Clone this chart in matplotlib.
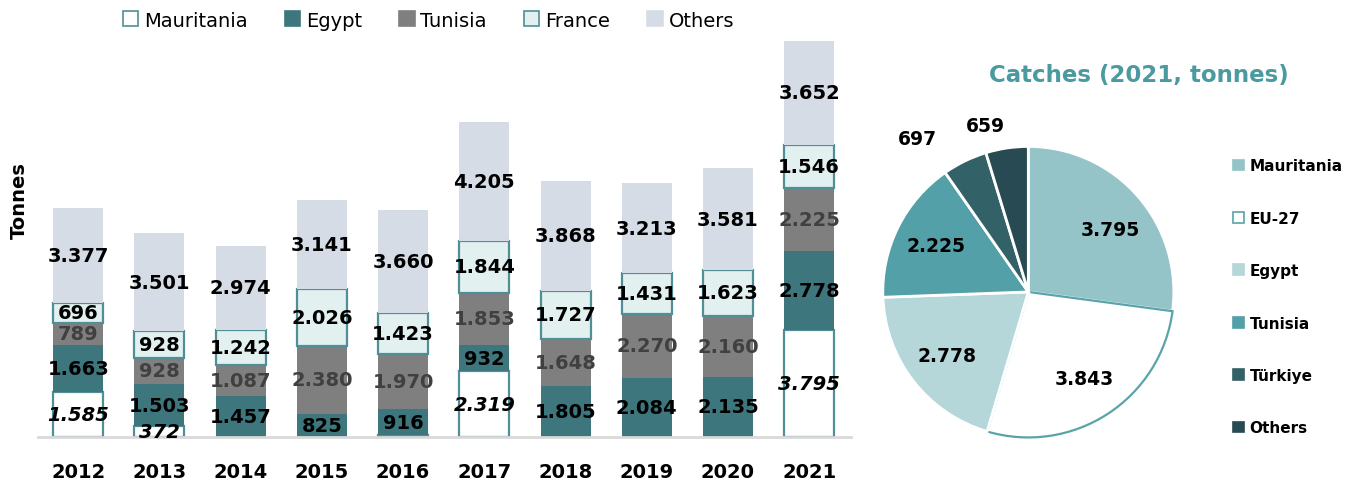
import matplotlib.pyplot as plt
from matplotlib.patches import Patch
import numpy as np

years = ['2012', '2013', '2014', '2015', '2016', '2017', '2018', '2019', '2020', '2021']
mauritania = [1585, 372, 0, 0, 60, 2319, 0, 0, 0, 3795]
egypt = [1663, 1503, 1457, 825, 916, 932, 1805, 2084, 2135, 2778]
tunisia = [789, 928, 1087, 2380, 1970, 1853, 1648, 2270, 2160, 2225]
france = [696, 928, 1242, 2026, 1423, 1844, 1727, 1431, 1623, 1546]
others = [3377, 3501, 2974, 3141, 3660, 4205, 3868, 3213, 3581, 3652]

pie_labels = ['Mauritania', 'EU-27', 'Egypt', 'Tunisia', 'Türkiye', 'Others']
pie_values = [3795, 3843, 2778, 2225, 697, 659]

def fmt(v):
    return f"{v:,}".replace(',', '.')

plt.rcParams['font.family'] = ['DejaVu Sans']

fig = plt.figure(figsize=(13.72, 4.85), dpi=100)
ax = fig.add_axes([0.028, 0.097, 0.592, 0.816])

x = np.arange(len(years))
w = 0.615
edge = '#4f8f95'
series = [
    ('Mauritania', mauritania, 'white', edge, 'black', 'italic'),
    ('Egypt', egypt, '#3d767c', '#3d767c', 'black', 'normal'),
    ('Tunisia', tunisia, '#7f7f7f', '#7f7f7f', '#404040', 'normal'),
    ('France', france, '#e2f0f0', edge, 'black', 'normal'),
    ('Others', others, '#d6dce6', '#d6dce6', 'black', 'normal'),
]

bottom = np.zeros(len(years))
handles = []
for name, vals, fc, ec, tc, style in series:
    vals = np.array(vals, dtype=float)
    lw = 1.6 if ec != fc else 0
    ax.bar(x, vals, w, bottom=bottom, color=fc, edgecolor=ec, linewidth=lw)
    for xi, b, v in zip(x, bottom, vals):
        if v > 100:
            ax.text(xi, b + v / 2, fmt(int(v)), ha='center', va='center',
                    fontsize=14, fontweight='bold', color=tc, style=style)
    handles.append(Patch(facecolor=fc, edgecolor=ec, linewidth=1.2, label=name))
    bottom += vals

ax.set_xlim(-0.49, 9.51)
ax.set_ylim(0, 14000)
ax.set_xticks(x)
ax.set_xticklabels(years, fontsize=14, fontweight='bold')
ax.tick_params(axis='x', length=0, pad=18)
ax.set_yticks([])
for s in ['top', 'right', 'left']:
    ax.spines[s].set_visible(False)
ax.spines['bottom'].set_color('#d9d9d9')
ax.spines['bottom'].set_linewidth(2)
ax.set_ylabel('Tonnes', fontsize=14, fontweight='bold')
ax.yaxis.set_label_coords(-0.012, 0.6)

ax.legend(handles=handles, loc='lower center', bbox_to_anchor=(0.48, 0.985),
          ncol=5, frameon=False, fontsize=14, handlelength=0.8,
          handleheight=0.8, handletextpad=0.3, columnspacing=1.9)

# Pie chart
pax = fig.add_axes([0.517, 0.066, 0.465, 0.66])
pie_colors = ['#94c3c8', 'white', '#b5d7da', '#54a0a8', '#336168', '#284a52']
wedges, _ = pax.pie(pie_values, colors=pie_colors, startangle=90, counterclock=False,
                    wedgeprops=dict(edgecolor='white', linewidth=2))
wedges[1].set_edgecolor('#5aa3aa')
wedges[1].set_linewidth(1.6)
pax.set_xlim(-1.1, 1.1)
pax.set_ylim(-1.1, 1.1)
pax.set_aspect('equal')

# label radius and angle nudge per slice (outside labels for the small ones)
label_r = [0.71, 0.71, 0.71, 0.71, 1.3, 1.18]
label_shift = [-4, 0, 0, 0, 10, 6]
total = sum(pie_values)
ang = 90.0
for v, r, sh in zip(pie_values, label_r, label_shift):
    span = 360.0 * v / total
    mid = np.deg2rad(ang - span / 2 + sh)
    pax.text(r * np.cos(mid), r * np.sin(mid), fmt(v), ha='center', va='center',
             fontsize=13.5, fontweight='bold', color='black')
    ang -= span

fig.text(0.830, 0.845, 'Catches (2021, tonnes)', ha='center', va='center',
         fontsize=16.5, fontweight='bold', color='#4a9aa0')

pie_handles = [Patch(facecolor=c, edgecolor='#5aa3aa' if c == 'white' else c,
                     linewidth=1.2, label=l) for c, l in zip(pie_colors, pie_labels)]
fig.legend(handles=pie_handles, loc='upper left', bbox_to_anchor=(0.889, 0.7),
           frameon=False, handlelength=0.7, handleheight=0.7,
           handletextpad=0.35, labelspacing=2.45, prop={'weight': 'bold', 'size': 11})

fig.savefig('out.png', dpi=100)
